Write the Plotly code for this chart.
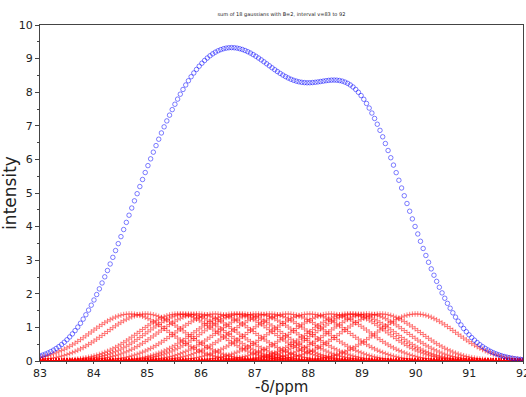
import numpy as np
import plotly.graph_objects as go

# centres of the 18 gaussians (ppm), common amplitude and width
centers = [84.97, 84.68, 85.57, 85.73, 85.94, 86.26, 86.61, 86.76, 87.03,
           87.28, 87.61, 88.02, 88.41, 88.74, 88.87, 89.10, 89.35, 90.01]
amplitude = 1.4
sigma = 0.737
x_range = [83, 92]
y_range = [0, 10]
x_ticks = [83, 84, 85, 86, 87, 88, 89, 90, 91, 92]
y_ticks = [0, 1, 2, 3, 4, 5, 6, 7, 8, 9, 10]
title_text = "sum of 18 gaussians with B=2, interval v=83 to 92"
x_title = "-δ/ppm"
y_title = "intensity"

x = np.linspace(83, 92, 180)
curves = [amplitude * np.exp(-(x - c) ** 2 / (2 * sigma ** 2)) for c in centers]
total = np.sum(curves, axis=0)

fig = go.Figure()
for cv in curves:
    fig.add_trace(go.Scatter(
        x=x, y=cv, mode="markers", showlegend=False,
        marker=dict(symbol="cross-thin", size=4, opacity=0.5,
                    line=dict(color="red", width=1)),
    ))
fig.add_trace(go.Scatter(
    x=x, y=total, mode="markers", showlegend=False,
    marker=dict(symbol="circle-open", size=4.5, opacity=0.5,
                color="blue", line=dict(color="blue", width=1)),
))

axis_common = dict(
    showline=True, linecolor="#444", linewidth=1, mirror=True, automargin=False,
    showgrid=False, zeroline=False, ticks="outside",
    tickcolor="#444", tickfont=dict(family="DejaVu Sans", size=11, color="#222"),
    minor=dict(ticks="outside", ticklen=2, tickcolor="#444", dtick=0.5),
)
fig.update_xaxes(range=x_range, tickvals=x_ticks, ticklen=2, ticklabeloverflow="allow",
                 **axis_common)
fig.update_yaxes(range=y_range, tickvals=y_ticks, ticklen=4, **axis_common,
                 title=dict(text=y_title, font=dict(family="DejaVu Sans", size=17, color="#222"),
                            standoff=6))
fig.add_annotation(text=x_title, xref="paper", yref="paper", x=0.5, y=0,
                   xanchor="center", yanchor="top", yshift=-15, showarrow=False,
                   font=dict(family="DejaVu Sans", size=15, color="#222"))
fig.update_layout(
    width=526, height=397,
    margin=dict(l=40, r=3, t=25, b=36),
    paper_bgcolor="white", plot_bgcolor="white",
    title=dict(text=title_text, x=0.535, xanchor="center", y=0.963, yanchor="middle",
               font=dict(family="DejaVu Sans", size=5, color="#222")),
)
fig.write_html("out.html")
